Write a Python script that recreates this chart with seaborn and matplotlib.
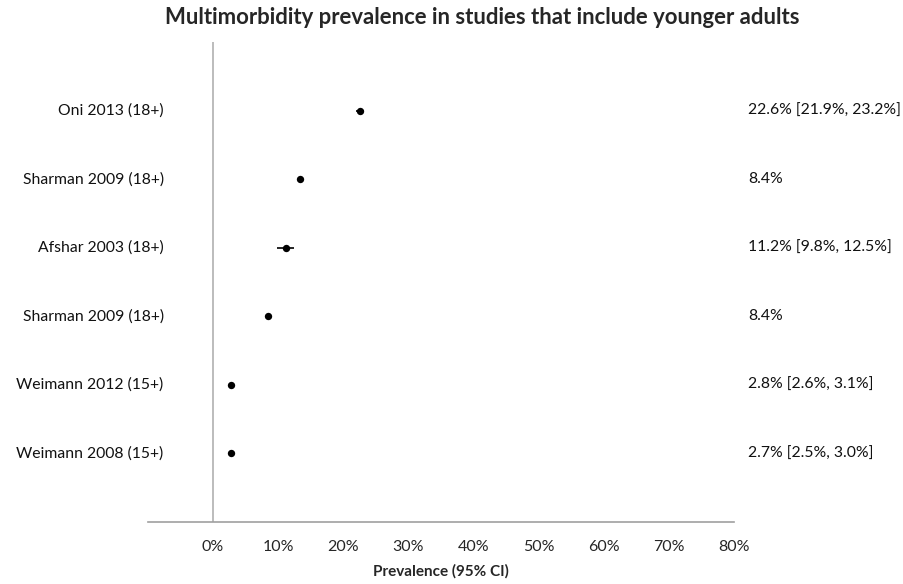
import numpy as np
import pandas as pd
import seaborn as sns
import matplotlib.pyplot as plt

# Data

studies = ["Oni 2013 (18+)", "Sharman 2009 (18+)", "Afshar 2003 (18+)",
           "Sharman 2009 (18+)", "Weimann 2012 (15+)", "Weimann 2008 (15+)"]
prevalence = [22.6, 13.3, 11.2, 8.4, 2.8, 2.7]
ci_low = [21.9, np.nan, 9.8, np.nan, 2.6, 2.5]
ci_high = [23.2, np.nan, 12.5, np.nan, 3.1, 3.0]
value_labels = ["22.6% [21.9%, 23.2%]", "8.4%", "11.2% [9.8%, 12.5%]",
                "8.4%", "2.8% [2.6%, 3.1%]", "2.7% [2.5%, 3.0%]"]
x_ticks = [-10, 0, 10, 20, 30, 40, 50, 60, 70, 80]
x_ticklabels = ["", "0%", "10%", "20%", "30%", "40%", "50%", "60%", "70%", "80%"]

df = pd.DataFrame({"study": studies, "prev": prevalence,
                   "lo": ci_low, "hi": ci_high, "label": value_labels})
df["row"] = np.arange(len(df))

sns.set_style("white")
plt.rcParams['font.family'] = ['Lato', 'DejaVu Sans']

fig = plt.figure(figsize=(9.04, 5.84), dpi=100)
ax = fig.add_axes([148 / 904, 1 - 522 / 584, (734 - 148) / 904, (522 - 42) / 584])

# confidence intervals
ax.hlines(df["row"], df["lo"], df["hi"], color="black", lw=1.2, zorder=2)
sns.scatterplot(data=df, x="prev", y="row", color="black", s=28,
                edgecolor="black", linewidth=0, ax=ax, zorder=3, legend=False)

# zero line
ax.axvline(0, color="#b0b0b0", lw=1.2, zorder=1)

ax.set_xlim(-10, 80)
ax.set_ylim(6, -1)
ax.set_xticks(x_ticks)
ax.set_xticklabels(x_ticklabels, fontsize=11.5)
ax.set_yticks([])
ax.set_ylabel("")
ax.set_xlabel("Prevalence (95% CI)", fontsize=11, fontweight="bold", labelpad=7)

for s in ["top", "right", "left"]:
    ax.spines[s].set_visible(False)
ax.spines["bottom"].set_color("#a0a0a0")
ax.spines["bottom"].set_linewidth(1.2)
ax.tick_params(axis="x", direction="out", length=6, color="#a0a0a0", width=1.2, pad=7)

# study names on the left, estimates on the right
for i, r in df.iterrows():
    ax.text(-7.6, r["row"], r["study"], ha="right", va="center", fontsize=11.3,
            color="#111111")
    ax.text(82.2, r["row"], r["label"], ha="left", va="center", fontsize=11.3,
            color="#111111", clip_on=False)

fig.text(0.534, 0.97, "Multimorbidity prevalence in studies that include younger adults",
         ha="center", va="center", fontsize=15.9, fontweight="bold")

fig.savefig("out.png", dpi=100)
